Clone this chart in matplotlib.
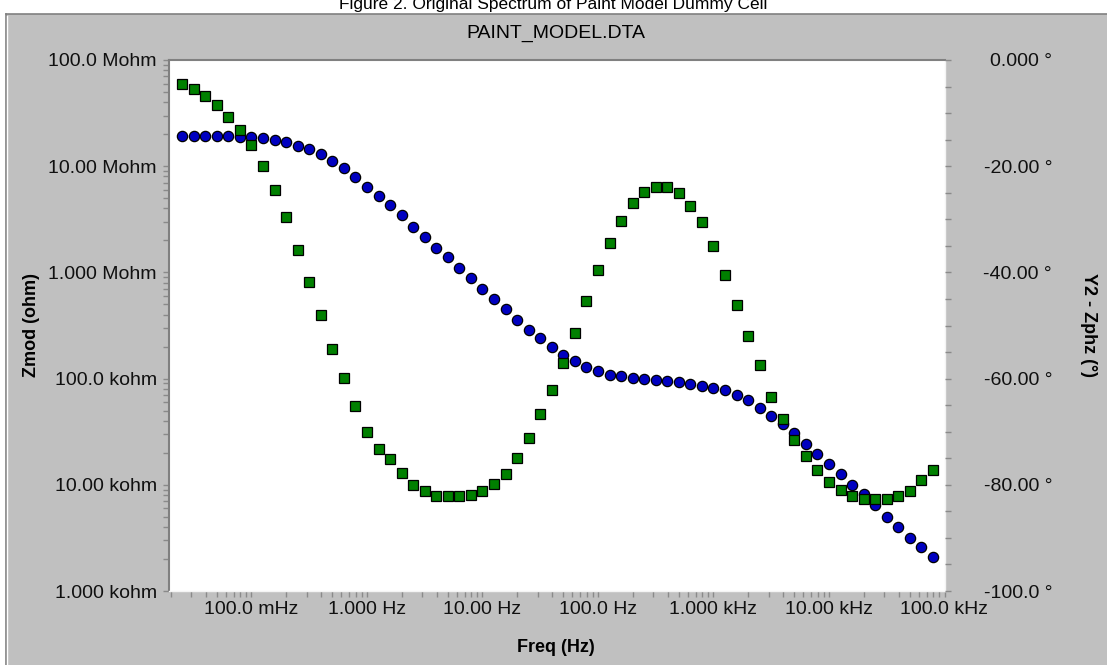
import matplotlib
matplotlib.use("Agg")
import matplotlib.pyplot as plt
from matplotlib.ticker import FixedLocator, FixedFormatter, LogLocator, NullFormatter, MultipleLocator
from matplotlib.patches import Rectangle
from matplotlib.lines import Line2D

# ---- impedance spectrum (10 points per decade) ----
freq_hz = [
    0.02512, 0.03162, 0.03981, 0.05012, 0.06310, 0.07943,
    0.1000, 0.1259, 0.1585, 0.1995, 0.2512, 0.3162, 0.3981, 0.5012, 0.6310, 0.7943,
    1.000, 1.259, 1.585, 1.995, 2.512, 3.162, 3.981, 5.012, 6.310, 7.943,
    10.00, 12.59, 15.85, 19.95, 25.12, 31.62, 39.81, 50.12, 63.10, 79.43,
    100.0, 125.9, 158.5, 199.5, 251.2, 316.2, 398.1, 501.2, 631.0, 794.3,
    1000, 1259, 1585, 1995, 2512, 3162, 3981, 5012, 6310, 7943,
    10000, 12590, 15850, 19950, 25120, 31620, 39810, 50120, 63100, 79430,
]

zmod_ohm = [
    1.94e7, 1.94e7, 1.94e7, 1.93e7, 1.92e7, 1.90e7, 1.87e7, 1.83e7, 1.78e7, 1.68e7,
    1.56e7, 1.46e7, 1.31e7, 1.12e7, 9.68e6, 7.85e6, 6.37e6, 5.21e6, 4.34e6, 3.45e6,
    2.70e6, 2.17e6, 1.71e6, 1.387e6, 1.094e6, 8.86e5, 6.93e5, 5.58e5, 4.55e5, 3.56e5,
    2.89e5, 2.43e5, 1.97e5, 1.68e5, 1.46e5, 1.29e5, 1.18e5, 1.09e5, 1.05e5, 1.02e5,
    9.85e4, 9.64e4, 9.50e4, 9.23e4, 8.89e4, 8.51e4, 8.21e4, 7.76e4, 7.01e4, 6.22e4,
    5.25e4, 4.45e4, 3.74e4, 3.05e4, 2.44e4, 1.94e4, 1.57e4, 1.27e4, 1.00e4, 8.19e3,
    6.45e3, 5.01e3, 4.03e3, 3.18e3, 2.58e3, 2.10e3,
]

zphz_deg = [
    -4.6, -5.5, -6.7, -8.5, -10.7, -13.1, -16.1, -20.0, -24.5, -29.6, -35.7,
    -41.8, -48.0, -54.4, -59.8, -65.2, -70.0, -73.3, -75.2, -77.8, -80.0, -81.1, -82.1,
    -82.1, -82.1, -82.0, -81.2, -79.8, -78.0, -75.0, -71.2, -66.7,
    -62.1, -57.1, -51.4, -45.3, -39.5, -34.5, -30.3, -26.9, -24.8, -23.9, -23.9, -25.1,
    -27.5, -30.5, -35.0, -40.5, -46.2, -51.9,
    -57.4, -63.4, -67.6, -71.6, -74.6, -77.2, -79.4, -81.0, -82.1, -82.7, -82.7, -82.7,
    -82.1, -81.2, -79.1, -77.2,
]

# ---- axis ticks and labels ----
x_ticks = [0.1, 1, 10, 100, 1e3, 1e4, 1e5]
x_labels = ["100.0 mHz", "1.000 Hz", "10.00 Hz", "100.0 Hz", "1.000 kHz", "10.00 kHz", "100.0 kHz"]
y_ticks = [1e3, 1e4, 1e5, 1e6, 1e7, 1e8]
y_labels = ["1.000 kohm", "10.00 kohm", "100.0 kohm", "1.000 Mohm", "10.00 Mohm", "100.0 Mohm"]
y2_ticks = [-100, -80, -60, -40, -20, 0]
y2_labels = ["-100.0 °", "-80.00 °", "-60.00 °", "-40.00 °", "-20.00 °", "0.000 °"]

W, H = 1107, 665
FONT = "Liberation Sans"
plt.rcParams["font.family"] = [FONT, "DejaVu Sans"]

fig = plt.figure(figsize=(W / 100, H / 100), dpi=100)
fig.patch.set_facecolor("white")


def fx(px):
    return px / W


def fy(py):
    return 1 - py / H


# gray window panel with a sunken border
fig.add_artist(Rectangle((fx(6), 0), 1 - fx(6), fy(14), transform=fig.transFigure,
                         facecolor="#c0c0c0", edgecolor="none", zorder=0))
fig.add_artist(Line2D([fx(5.5), fx(5.5)], [0, fy(14)], transform=fig.transFigure,
                      color="#808080", lw=1.2))
fig.add_artist(Line2D([fx(5.5), 1], [fy(14), fy(14)], transform=fig.transFigure,
                      color="#808080", lw=1.2))
fig.add_artist(Line2D([fx(7), fx(7)], [0, fy(15.5)], transform=fig.transFigure,
                      color="white", lw=1.0))

fig.text(0.5, fy(4), "Figure 2. Original Spectrum of Paint Model Dummy Cell",
         ha="center", va="center", fontsize=12.5, color="black")

L, R, T, B = 169, 944.5, 60, 591
ax = fig.add_axes([fx(L), fy(B), fx(R) - fx(L), fy(T) - fy(B)])
ax.set_facecolor("white")
ax.set_xscale("log")
ax.set_yscale("log")
ax.set_xlim(10 ** -1.714, 1e5)
ax.set_ylim(1e3, 1e8)

ax.plot(freq_hz, zmod_ohm, ls="none", marker="o", ms=7.4, mfc="#0000c0",
        mec="#000000", mew=0.9, zorder=3)

ax2 = ax.twinx()
ax2.set_ylim(-100, 0)
ax2.plot(freq_hz, zphz_deg, ls="none", marker="s", ms=6.6, mfc="#008000",
         mec="#000000", mew=0.9, zorder=3)

# tick locators
ax.xaxis.set_major_locator(FixedLocator(x_ticks))
ax.xaxis.set_major_formatter(FixedFormatter(x_labels))
ax.xaxis.set_minor_locator(LogLocator(base=10, subs=range(2, 10), numticks=50))
ax.xaxis.set_minor_formatter(NullFormatter())
ax.yaxis.set_major_locator(FixedLocator(y_ticks))
ax.yaxis.set_major_formatter(FixedFormatter(y_labels))
ax.yaxis.set_minor_locator(LogLocator(base=10, subs=range(2, 10), numticks=50))
ax.yaxis.set_minor_formatter(NullFormatter())
ax2.yaxis.set_major_locator(FixedLocator(y2_ticks))
ax2.yaxis.set_major_formatter(FixedFormatter(y2_labels))
ax2.yaxis.set_minor_locator(MultipleLocator(5))

tick_len = 6 * 0.72
fs = 14.0
ax.tick_params(axis="both", which="both", direction="out", length=tick_len, width=1.0,
               color="#8a8a8a", labelsize=fs, labelcolor="#101010")
ax.tick_params(axis="x", which="both", top=False, pad=4 * 0.72)
ax.tick_params(axis="y", which="both", right=False, pad=6 * 0.72)
ax2.tick_params(axis="y", which="both", direction="out", length=tick_len, width=1.0,
                color="#8a8a8a", labelsize=fs, labelcolor="#101010", left=False,
                pad=(1052 - (R + 6)) * 0.72)
for t in ax2.yaxis.get_major_ticks():
    t.label2.set_horizontalalignment("right")

# sunken plot frame: dark top/left, light bottom/right
for side in ("left", "top"):
    ax.spines[side].set_color("#808080")
    ax.spines[side].set_linewidth(1.5)
for side in ("right", "bottom"):
    ax.spines[side].set_color("#f4f4f4")
    ax.spines[side].set_linewidth(1.0)
for s in ax2.spines.values():
    s.set_visible(False)

fig.text(fx(556), fy(33), "PAINT_MODEL.DTA", ha="center", va="center",
         fontsize=14, color="black")
fig.text(fx(556), fy(648), "Freq (Hz)", ha="center", va="center",
         fontsize=13, fontweight="bold", color="black")
fig.text(fx(31), fy(325), "Zmod (ohm)", ha="center", va="center", rotation=90,
         fontsize=13, fontweight="bold", color="black")
fig.text(fx(1088), fy(325), "Y2 - Zphz (°)", ha="center", va="center", rotation=270,
         fontsize=13, fontweight="bold", color="black")

fig.savefig("out.png", dpi=100, facecolor=fig.get_facecolor())
